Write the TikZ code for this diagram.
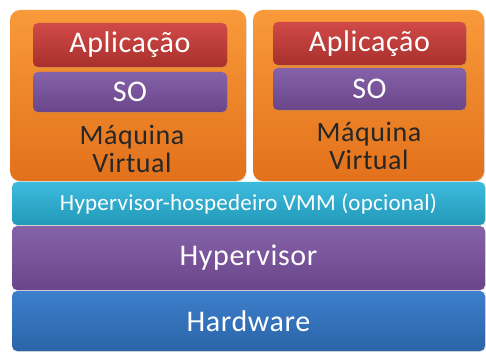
\documentclass[tikz,border=0pt]{standalone}
\usepackage{fontspec}
\setmainfont{Carlito}
\usetikzlibrary{shadows}
\definecolor{orgT}{HTML}{F99A3A}
\definecolor{orgB}{HTML}{E2711B}
\definecolor{redT}{HTML}{D04A48}
\definecolor{redB}{HTML}{A8302C}
\definecolor{purT}{HTML}{8662AA}
\definecolor{purB}{HTML}{6A4589}
\definecolor{cyaT}{HTML}{3DBBDE}
\definecolor{cyaB}{HTML}{2399B8}
\definecolor{bluT}{HTML}{3D7FCC}
\definecolor{bluB}{HTML}{2B64A8}
\tikzset{
  layer/.style={rectangle, rounded corners=5pt, inner sep=0pt, text=white,
    drop shadow={shadow xshift=0.8pt, shadow yshift=-0.8pt, opacity=0.25}},
  vmbox/.style={rectangle, rounded corners=10pt, inner sep=0pt,
    top color=orgT, bottom color=orgB,
    drop shadow={shadow xshift=1pt, shadow yshift=-1pt, opacity=0.25}},
  bigtext/.style={font=\fontsize{30}{30}\selectfont\addfontfeatures{LetterSpace=2}},
  appbox/.style={layer, bigtext, top color=redT, bottom color=redB},
  osbox/.style={layer, bigtext, top color=purT, bottom color=purB},
  vmlabel/.style={align=center, text=black!85,
    font=\fontsize{28}{28}\selectfont\addfontfeatures{LetterSpace=2}},
}
\begin{document}
\begin{tikzpicture}[x=1pt,y=-1pt]
\useasboundingbox (0,0) rectangle (486,352);
\fill[white] (0,0) rectangle (486,352);

% hardware stack
\node[layer, bigtext, top color=bluT, bottom color=bluB, minimum width=473pt,
  minimum height=60pt] (hw) at (248.5,321) {Hardware};
\node[layer, bigtext, top color=purT, bottom color=purB, minimum width=473pt,
  minimum height=64pt] (hyp) at (248.5,258) {Hypervisor};
\node[layer, top color=cyaT, bottom color=cyaB, minimum width=473pt, minimum height=43pt,
  font=\fontsize{23}{26}\selectfont\addfontfeatures{LetterSpace=1}] (host) at (248.5,203.5)
  {Hypervisor-hospedeiro VMM (opcional)};

% virtual machines
\node[vmbox, minimum width=236pt, minimum height=171pt] (vm1) at (128,95.5) {};
\node[vmbox, minimum width=231pt, minimum height=171pt] (vm2) at (368.5,95.5) {};

\node[appbox, minimum width=194pt, minimum height=44pt] (app1) at (130,45) {Aplicação};
\node[osbox, minimum width=194pt, minimum height=40pt] (so1) at (130,92) {SO};
\node[vmlabel] (lbl1) at (132,149) {Máquina\\Virtual};

\node[appbox, minimum width=193pt, minimum height=43pt] (app2) at (369.5,43.5) {Aplicação};
\node[osbox, minimum width=193pt, minimum height=42pt] (so2) at (369.5,89) {SO};
\node[vmlabel] (lbl2) at (369,146) {Máquina\\Virtual};
\end{tikzpicture}
\end{document}
